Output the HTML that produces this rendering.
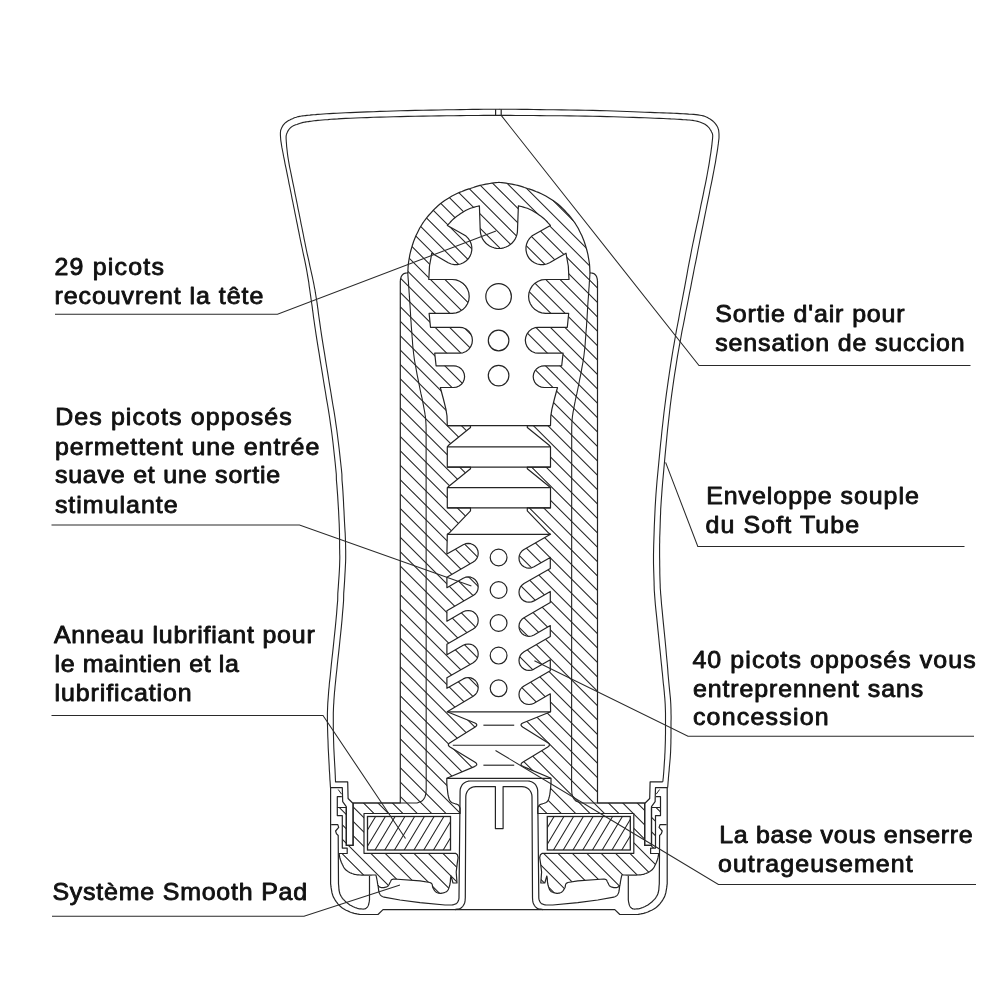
<!DOCTYPE html>
<html><head><meta charset="utf-8"><title>Diagram</title>
<style>html,body{margin:0;padding:0;background:#fff}svg{display:block}</style></head>
<body><svg width="1000" height="1000" viewBox="0 0 1000 1000">
<rect width="1000" height="1000" fill="#fff"/>
<path d="M499.3 109.2 L496.4 109.2 L492.8 109.3 L488.5 109.3 L483.6 109.3 L478.2 109.4 L472.5 109.4 L466.5 109.5 L460.4 109.6 L453.8 109.7 L446.6 109.8 L439.0 110.0 L431.1 110.1 L423.1 110.3 L415.2 110.4 L407.6 110.6 L400.4 110.8 L393.5 111.0 L386.7 111.2 L380.0 111.4 L373.5 111.7 L367.2 111.9 L361.3 112.1 L355.6 112.4 L350.4 112.6 L345.6 112.8 L341.1 113.0 L337.0 113.2 L333.2 113.4 L329.7 113.6 L326.4 113.8 L323.3 114.0 L320.4 114.2 L317.8 114.4 L315.5 114.6 L313.4 114.7 L311.6 114.9 L309.9 115.1 L308.4 115.2 L306.9 115.4 L305.4 115.6 L304.0 115.8 L302.8 115.9 L301.6 116.0 L300.6 116.2 L299.6 116.4 L298.6 116.6 L297.5 116.8 L296.4 117.2 L295.2 117.6 L293.8 118.1 L292.5 118.7 L291.1 119.3 L289.8 120.0 L288.6 120.6 L287.4 121.3 L286.4 122.0 L285.5 122.7 L284.7 123.4 L284.1 124.1 L283.4 124.9 L282.9 125.6 L282.4 126.4 L282.0 127.2 L281.6 128.0 L281.3 128.8 L281.0 129.5 L280.7 130.2 L280.6 130.9 L280.5 131.7 L280.4 132.7 L280.4 133.7 L280.4 135.0 L280.5 136.4 L280.6 137.8 L280.7 139.4 L280.9 141.1 L281.2 142.9 L281.5 145.0 L281.9 147.4 L282.4 150.0 L283.0 153.0 L283.6 156.4 L284.4 160.2 L285.1 164.1 L286.0 168.1 L286.8 172.1 L287.6 176.1 L288.4 180.0 L289.1 183.8 L289.9 187.5 L290.6 191.2 L291.4 195.0 L292.1 198.8 L292.9 202.5 L293.6 206.2 L294.4 210.0 L295.1 213.7 L295.9 217.5 L296.6 221.2 L297.4 224.9 L298.1 228.6 L298.9 232.4 L299.6 236.2 L300.4 240.0 L301.2 243.9 L302.1 248.0 L302.9 252.0 L303.8 256.1 L304.7 260.2 L305.5 264.2 L306.3 268.2 L307.0 272.0 L307.6 275.7 L308.2 279.2 L308.8 282.7 L309.2 286.1 L309.7 289.5 L310.2 293.0 L310.7 296.4 L311.2 300.0 L311.7 303.5 L312.2 306.9 L312.6 310.2 L313.1 313.6 L313.5 317.2 L314.1 321.0 L314.7 325.3 L315.4 330.0 L316.2 335.3 L317.1 341.1 L318.1 347.3 L319.2 353.8 L320.2 360.4 L321.3 367.0 L322.4 373.6 L323.4 380.0 L324.4 386.2 L325.5 392.5 L326.5 398.8 L327.6 405.0 L328.6 411.2 L329.6 417.5 L330.5 423.8 L331.4 430.0 L332.2 436.3 L333.0 442.7 L333.7 449.2 L334.4 455.6 L335.1 462.0 L335.7 468.2 L336.3 474.2 L336.4 480.0 L336.9 485.6 L337.3 491.1 L337.7 496.4 L338.0 501.6 L338.3 506.5 L338.6 511.3 L338.8 515.8 L339.0 520.0 L339.2 523.8 L339.3 527.3 L339.4 530.5 L339.5 533.4 L339.5 536.3 L339.6 539.1 L339.6 542.0 L339.6 545.0 L339.6 548.0 L339.7 550.7 L339.7 553.3 L339.8 555.9 L339.8 558.8 L339.7 562.0 L339.6 565.7 L339.4 570.0 L339.1 575.1 L338.7 580.7 L338.3 586.9 L337.8 593.4 L337.7 600.2 L337.1 606.9 L336.6 613.6 L336.0 620.0 L335.4 626.4 L334.7 633.1 L334.0 639.8 L333.3 646.6 L332.6 653.1 L331.9 659.3 L331.3 664.9 L330.8 670.0 L330.4 674.3 L330.0 678.1 L329.6 681.4 L329.3 684.3 L329.1 687.0 L328.8 689.6 L328.6 692.2 L328.4 695.0 L328.2 697.8 L328.0 700.4 L327.8 702.9 L327.7 705.3 L327.6 707.8 L327.5 710.4 L327.4 713.1 L327.4 716.0 L327.4 719.2 L327.4 722.5 L327.5 726.0 L327.6 729.6 L327.7 733.2 L327.8 736.8 L328.0 740.5 L328.1 744.0 L328.2 747.6 L328.4 751.3 L328.6 755.0 L328.8 758.8 L329.0 762.4 L329.2 765.9 L329.3 769.1 L329.5 772.0 L329.7 774.7 L329.8 777.2 L329.9 779.5 L330.1 781.6 L330.2 783.5 L330.3 785.2 L330.4 786.6 L330.5 787.7" fill="none" stroke="#242424" stroke-width="1.1" stroke-linejoin="round" stroke-linecap="butt" />
<path d="M499.3 115.4 L496.4 115.4 L492.8 115.4 L488.5 115.4 L483.6 115.4 L478.2 115.5 L472.5 115.5 L466.5 115.5 L460.4 115.6 L453.8 115.7 L446.6 115.8 L439.0 115.9 L431.1 116.0 L423.1 116.1 L415.2 116.3 L407.6 116.4 L400.4 116.6 L393.5 116.8 L386.7 117.0 L380.0 117.1 L373.4 117.3 L367.1 117.6 L361.1 117.8 L355.5 118.0 L350.4 118.2 L345.8 118.4 L341.5 118.6 L337.7 118.9 L334.1 119.1 L330.9 119.3 L327.9 119.6 L325.1 119.8 L322.4 120.0 L319.9 120.2 L317.8 120.4 L315.9 120.6 L314.1 120.8 L312.6 121.0 L311.1 121.2 L309.8 121.4 L308.4 121.6 L307.1 121.8 L306.0 121.9 L305.0 122.1 L304.1 122.3 L303.2 122.4 L302.3 122.6 L301.4 122.9 L300.4 123.2 L299.3 123.6 L298.1 123.9 L296.9 124.4 L295.7 124.8 L294.5 125.3 L293.3 125.8 L292.3 126.4 L291.4 127.0 L290.6 127.6 L289.9 128.3 L289.3 129.0 L288.7 129.8 L288.2 130.6 L287.7 131.4 L287.3 132.2 L287.0 133.0 L286.7 133.7 L286.5 134.4 L286.3 135.0 L286.2 135.6 L286.1 136.4 L286.1 137.3 L286.1 138.5 L286.2 140.0 L286.3 141.8 L286.5 143.9 L286.6 146.1 L286.9 148.6 L287.2 151.2 L287.5 154.0 L287.9 156.9 L288.4 160.0 L289.0 163.3 L289.6 166.8 L290.4 170.5 L291.2 174.4 L292.0 178.3 L292.8 182.3 L293.6 186.2 L294.4 190.0 L295.1 193.8 L295.9 197.5 L296.6 201.2 L297.4 205.0 L298.1 208.8 L298.9 212.5 L299.6 216.2 L300.4 220.0 L301.1 223.8 L301.9 227.5 L302.6 231.2 L303.4 235.0 L304.1 238.8 L304.9 242.5 L305.6 246.2 L306.4 250.0 L307.2 253.8 L308.1 257.7 L309.0 261.7 L309.8 265.6 L310.7 269.5 L311.5 273.2 L312.3 276.7 L313.0 280.0 L313.6 282.9 L314.1 285.5 L314.5 287.8 L315.0 290.0 L315.3 292.2 L315.7 294.5 L316.1 297.1 L316.6 300.0 L317.1 303.1 L317.5 306.3 L318.0 309.6 L318.4 313.1 L318.9 316.8 L319.5 320.9 L320.1 325.2 L320.8 330.0 L321.6 335.3 L322.5 341.1 L323.5 347.3 L324.6 353.8 L325.6 360.4 L326.7 367.0 L327.8 373.6 L328.8 380.0 L329.8 386.2 L330.9 392.5 L331.9 398.8 L332.9 405.0 L334.0 411.2 L335.0 417.5 L335.9 423.8 L336.8 430.0 L337.6 436.3 L338.4 442.7 L339.2 449.2 L339.9 455.6 L340.6 462.0 L341.3 468.2 L341.9 474.2 L342.0 480.0 L342.5 485.6 L342.9 491.1 L343.2 496.4 L343.5 501.6 L343.7 506.5 L344.0 511.3 L344.2 515.8 L344.4 520.0 L344.6 523.8 L344.8 527.3 L345.0 530.5 L345.2 533.4 L345.3 536.3 L345.4 539.1 L345.5 542.0 L345.6 545.0 L345.6 548.0 L345.7 550.7 L345.7 553.3 L345.7 555.9 L345.7 558.8 L345.6 562.0 L345.4 565.7 L345.2 570.0 L344.9 575.1 L344.6 580.7 L344.2 586.9 L343.7 593.4 L343.6 600.2 L343.1 606.9 L342.5 613.6 L342.0 620.0 L341.4 626.4 L340.7 633.1 L340.0 639.8 L339.3 646.6 L338.6 653.1 L337.9 659.3 L337.3 664.9 L336.8 670.0 L336.3 674.3 L335.9 678.1 L335.6 681.4 L335.3 684.3 L335.0 687.0 L334.8 689.6 L334.5 692.2 L334.3 695.0 L334.1 697.8 L333.9 700.4 L333.8 702.9 L333.6 705.3 L333.5 707.8 L333.4 710.4 L333.3 713.1 L333.3 716.0 L333.3 719.2 L333.3 722.5 L333.3 726.0 L333.3 729.6 L333.4 733.2 L333.5 736.8 L333.6 740.5 L333.7 744.0 L333.8 747.6 L334.0 751.4 L334.2 755.3 L334.4 759.1 L334.6 762.8 L334.8 766.3 L335.0 769.4 L335.1 772.0 L335.2 774.2 L335.3 776.0 L335.3 777.5 L335.4 778.7 L335.4 779.7 L335.5 780.5 L335.5 781.3 L335.5 781.9" fill="none" stroke="#242424" stroke-width="1.1" stroke-linejoin="round" stroke-linecap="butt" />
<path d="M498.9 109.2 L501.9 109.2 L505.8 109.3 L510.5 109.3 L515.7 109.3 L521.4 109.4 L527.4 109.4 L533.7 109.5 L540.0 109.6 L546.7 109.7 L553.9 109.8 L561.6 109.9 L569.4 110.0 L577.4 110.1 L585.3 110.3 L592.8 110.4 L600.0 110.6 L606.9 110.8 L613.7 111.0 L620.4 111.2 L626.9 111.5 L633.2 111.7 L639.1 112.0 L644.8 112.2 L650.0 112.4 L654.8 112.6 L659.1 112.7 L663.2 112.9 L666.9 113.0 L670.4 113.1 L673.7 113.3 L676.9 113.4 L680.0 113.6 L683.0 113.8 L685.9 113.9 L688.7 114.1 L691.2 114.2 L693.7 114.4 L695.9 114.6 L698.0 114.9 L700.0 115.2 L701.7 115.5 L703.3 115.9 L704.6 116.3 L705.8 116.8 L706.9 117.2 L707.9 117.8 L709.0 118.4 L710.0 119.0 L711.1 119.7 L712.1 120.5 L713.1 121.3 L714.0 122.2 L714.9 123.2 L715.7 124.1 L716.4 125.1 L717.0 126.0 L717.5 126.9 L717.9 127.8 L718.2 128.8 L718.5 129.7 L718.7 130.7 L718.8 131.7 L718.9 132.8 L719.0 134.0 L719.0 135.2 L719.0 136.4 L719.0 137.7 L718.9 139.0 L718.7 140.4 L718.5 142.1 L718.3 143.9 L718.0 146.0 L717.7 148.3 L717.3 150.8 L716.9 153.4 L716.4 156.2 L715.9 159.3 L715.4 162.6 L714.7 166.2 L714.0 170.0 L713.2 174.2 L712.3 178.9 L711.3 183.8 L710.2 189.0 L709.2 194.3 L708.1 199.6 L707.0 204.9 L706.0 210.0 L705.0 214.9 L704.0 219.8 L703.1 224.6 L702.1 229.4 L701.1 234.3 L700.1 239.3 L699.1 244.5 L698.0 250.0 L696.9 255.8 L695.7 261.8 L694.4 268.0 L693.2 274.4 L691.9 280.8 L690.7 287.3 L689.4 293.7 L688.2 300.0 L687.0 306.2 L685.7 312.5 L684.5 318.8 L683.3 325.0 L682.0 331.2 L680.9 337.5 L679.7 343.8 L678.6 350.0 L677.5 356.2 L676.5 362.5 L675.5 368.8 L674.5 375.0 L673.6 381.2 L672.7 387.5 L671.8 393.8 L671.0 400.0 L670.2 406.2 L669.5 412.5 L668.8 418.8 L668.1 425.0 L667.4 431.2 L666.8 437.5 L666.2 443.8 L665.6 450.0 L665.0 456.4 L664.4 463.0 L663.8 469.6 L663.2 476.2 L662.6 482.7 L662.1 488.9 L661.7 494.7 L661.3 500.0 L661.0 504.8 L660.7 509.1 L660.6 513.2 L660.4 516.9 L660.3 520.4 L660.2 523.7 L660.1 526.9 L660.0 530.0 L659.9 532.9 L659.8 535.5 L659.7 537.8 L659.7 540.0 L659.7 542.2 L659.6 544.5 L659.6 547.1 L659.6 550.0 L659.6 553.3 L659.6 557.0 L659.7 561.0 L659.7 565.0 L659.8 569.0 L659.8 573.0 L659.9 576.7 L660.0 580.0 L660.1 582.8 L660.2 585.0 L660.2 586.9 L660.3 588.8 L660.5 590.7 L660.6 593.1 L660.9 596.1 L661.2 600.0 L661.6 605.0 L662.2 610.9 L662.8 617.4 L663.5 624.4 L664.2 631.4 L664.9 638.2 L665.5 644.5 L666.0 650.0 L666.4 654.7 L666.8 659.0 L667.2 663.0 L667.5 666.6 L667.8 670.1 L668.0 673.4 L668.3 676.7 L668.6 680.0 L668.9 683.3 L669.2 686.4 L669.5 689.4 L669.8 692.4 L670.1 695.3 L670.4 698.1 L670.6 701.0 L670.8 704.0 L670.9 707.0 L671.0 710.0 L671.0 713.0 L671.1 716.0 L671.1 719.0 L671.0 722.0 L671.0 725.0 L671.0 728.0 L671.0 731.0 L671.0 734.0 L671.0 737.0 L670.9 740.0 L670.9 743.0 L670.8 746.0 L670.7 749.0 L670.6 752.0 L670.4 755.1 L670.2 758.3 L669.9 761.5 L669.6 764.8 L669.3 767.9 L669.1 770.9 L668.8 773.6 L668.6 776.0 L668.4 778.1 L668.3 780.1 L668.1 781.8 L668.0 783.4 L667.9 784.7 L667.8 785.9 L667.7 786.9 L667.6 787.7" fill="none" stroke="#242424" stroke-width="1.1" stroke-linejoin="round" stroke-linecap="butt" />
<path d="M498.9 115.4 L501.9 115.4 L505.8 115.4 L510.5 115.4 L515.7 115.5 L521.4 115.5 L527.4 115.5 L533.7 115.5 L540.0 115.6 L546.7 115.7 L553.9 115.7 L561.6 115.8 L569.4 115.9 L577.4 116.0 L585.3 116.1 L592.8 116.3 L600.0 116.4 L606.9 116.6 L613.7 116.7 L620.4 117.0 L626.9 117.2 L633.2 117.4 L639.1 117.6 L644.8 117.8 L650.0 118.0 L654.8 118.2 L659.2 118.4 L663.3 118.5 L667.1 118.7 L670.7 118.9 L674.0 119.0 L677.1 119.2 L680.0 119.4 L682.7 119.6 L685.1 119.7 L687.3 119.9 L689.2 120.0 L691.1 120.2 L692.8 120.4 L694.4 120.7 L696.0 121.0 L697.6 121.4 L699.0 121.8 L700.4 122.2 L701.6 122.7 L702.8 123.2 L703.9 123.7 L705.0 124.3 L706.0 125.0 L706.9 125.7 L707.8 126.5 L708.6 127.4 L709.4 128.2 L710.0 129.2 L710.6 130.1 L711.2 131.1 L711.6 132.0 L712.0 132.8 L712.3 133.4 L712.5 134.0 L712.6 134.6 L712.7 135.3 L712.7 136.4 L712.6 137.9 L712.4 140.0 L712.1 142.6 L711.8 145.7 L711.3 149.2 L710.8 153.0 L710.1 157.1 L709.5 161.3 L708.8 165.6 L708.0 170.0 L707.2 174.5 L706.3 179.3 L705.3 184.3 L704.2 189.4 L703.2 194.6 L702.1 199.8 L701.0 204.9 L700.0 210.0 L699.0 214.9 L698.0 219.8 L696.9 224.6 L695.9 229.4 L694.8 234.3 L693.8 239.3 L692.7 244.5 L691.6 250.0 L690.5 255.8 L689.3 261.8 L688.1 268.0 L687.0 274.4 L685.8 280.8 L684.6 287.3 L683.4 293.7 L682.2 300.0 L681.0 306.2 L679.8 312.5 L678.7 318.8 L677.5 325.0 L676.3 331.2 L675.2 337.5 L674.1 343.8 L673.0 350.0 L672.0 356.2 L671.0 362.5 L670.0 368.8 L669.1 375.0 L668.2 381.2 L667.3 387.5 L666.4 393.8 L665.6 400.0 L664.8 406.2 L664.0 412.5 L663.3 418.8 L662.6 425.0 L661.9 431.2 L661.3 437.5 L660.6 443.8 L660.0 450.0 L659.4 456.2 L658.8 462.5 L658.2 468.8 L657.6 475.0 L657.0 481.2 L656.5 487.5 L656.0 493.8 L655.6 500.0 L655.2 506.4 L654.9 513.0 L654.6 519.6 L654.3 526.2 L654.1 532.7 L653.9 538.9 L653.7 544.7 L653.6 550.0 L653.5 554.8 L653.5 559.1 L653.5 563.2 L653.6 566.9 L653.7 570.4 L653.8 573.7 L653.9 576.9 L654.0 580.0 L654.1 582.8 L654.1 585.0 L654.2 586.9 L654.2 588.8 L654.3 590.7 L654.5 593.1 L654.7 596.1 L655.0 600.0 L655.4 605.0 L656.0 610.9 L656.7 617.4 L657.4 624.4 L658.1 631.4 L658.8 638.2 L659.4 644.5 L660.0 650.0 L660.5 654.7 L660.9 659.0 L661.3 663.0 L661.7 666.6 L662.0 670.1 L662.4 673.4 L662.7 676.7 L663.0 680.0 L663.3 683.3 L663.7 686.4 L664.0 689.4 L664.3 692.4 L664.5 695.3 L664.8 698.1 L665.0 701.0 L665.2 704.0 L665.3 707.0 L665.4 710.0 L665.5 713.0 L665.5 716.0 L665.5 719.0 L665.5 722.0 L665.5 725.0 L665.5 728.0 L665.5 731.0 L665.5 734.0 L665.4 737.0 L665.4 740.0 L665.3 743.0 L665.2 746.0 L665.1 749.0 L665.0 752.0 L664.8 755.1 L664.7 758.4 L664.4 761.8 L664.2 765.1 L664.0 768.3 L663.8 771.3 L663.6 773.9 L663.4 776.0 L663.3 777.6 L663.1 778.9 L663.0 779.8 L663.0 780.5 L662.9 780.9 L662.8 781.3 L662.7 781.6 L662.7 781.9" fill="none" stroke="#242424" stroke-width="1.1" stroke-linejoin="round" stroke-linecap="butt" />
<path d="M330.1 787.7 L342.3 787.7 L342.7 801.7 L346.3 806.6 L346.3 845.4 L353.1 845.4 L353.1 803.0" fill="none" stroke="#242424" stroke-width="1.2" stroke-linejoin="round" stroke-linecap="butt" />
<path d="M667.7 787.7 L655.5 787.7 L655.1 801.7 L651.5 806.6 L651.5 845.4 L644.7 845.4 L644.7 803.0" fill="none" stroke="#242424" stroke-width="1.2" stroke-linejoin="round" stroke-linecap="butt" />
<path d="M335.1 781.9 L347.7 781.9 L348.1 798.5 L352.6 803.0 L400.3 803.0" fill="none" stroke="#242424" stroke-width="1.2" stroke-linejoin="round" stroke-linecap="butt" />
<path d="M662.7 781.9 L650.1 781.9 L649.7 798.5 L645.2 803.0 L597.5 803.0" fill="none" stroke="#242424" stroke-width="1.2" stroke-linejoin="round" stroke-linecap="butt" />
<path d="M495.6 109.2 L495.6 115.4" fill="none" stroke="#242424" stroke-width="1.2" stroke-linejoin="round" stroke-linecap="butt" />
<path d="M501.2 109.2 L501.2 115.4" fill="none" stroke="#242424" stroke-width="1.2" stroke-linejoin="round" stroke-linecap="butt" />
<clipPath id="cb"><path d="M498.9 182.3 L497.7 182.5 L495.9 182.7 L493.9 182.9 L491.8 183.2 L489.8 183.5 L487.9 183.8 L485.9 184.2 L483.8 184.6 L481.9 185.0 L480.0 185.4 L478.3 185.9 L476.6 186.4 L475.0 186.9 L473.4 187.5 L471.8 188.0 L470.3 188.5 L468.9 188.9 L467.4 189.4 L465.8 189.9 L464.0 190.6 L461.9 191.5 L459.5 192.4 L457.0 193.5 L454.5 194.7 L452.0 196.0 L449.6 197.4 L447.2 198.9 L444.7 200.5 L442.3 202.2 L440.0 204.0 L437.7 206.0 L435.4 208.2 L433.1 210.5 L431.0 212.8 L429.0 215.0 L427.2 217.2 L425.5 219.4 L423.9 221.5 L422.4 223.7 L421.0 226.0 L419.6 228.3 L418.4 230.7 L417.2 233.2 L416.0 235.6 L415.0 238.0 L414.0 240.4 L413.2 242.8 L412.4 245.2 L411.7 247.6 L411.0 250.0 L410.4 252.4 L409.8 254.9 L409.4 257.3 L409.0 259.7 L408.6 262.0 L408.3 264.4 L408.1 266.9 L408.0 269.3 L407.9 271.4 L407.8 272.8 L407.3 272.9 L406.5 273.0 L405.6 273.1 L404.8 273.3 L404.0 273.6 L403.4 274.0 L402.8 274.5 L402.2 275.1 L401.7 275.8 L401.3 276.5 L401.0 277.4 L400.7 278.4 L400.5 279.4 L400.4 280.4 L400.3 281.0 L400.3 803.0 L353.1 803.0 L353.1 845.4 L346.3 845.4 L346.3 807.5 L337.3 807.5 L337.3 815.6 L342.3 815.6 L342.3 848.1 L347.2 848.1 L347.2 853.5 L339.1 853.5 L339.2 854.0 L339.3 854.6 L339.4 855.4 L339.5 856.2 L339.7 857.1 L339.9 858.0 L340.2 859.0 L340.5 860.0 L340.9 861.0 L341.3 862.2 L341.9 863.4 L342.4 864.6 L343.0 865.8 L343.6 867.0 L344.3 868.1 L345.0 869.0 L345.7 869.8 L346.6 870.5 L347.4 871.1 L348.3 871.7 L349.2 872.2 L350.1 872.7 L351.1 873.1 L352.0 873.5 L352.9 873.8 L353.7 874.1 L354.6 874.3 L355.4 874.5 L356.4 874.7 L357.4 874.8 L358.6 874.9 L360.0 875.0 L361.7 875.1 L363.8 875.1 L366.1 875.1 L368.5 875.1 L370.8 875.1 L372.9 875.0 L374.7 875.0 L376.0 875.0 L376.1 875.7 L376.3 876.6 L376.6 877.8 L376.8 878.9 L377.0 880.0 L377.2 881.0 L377.4 882.1 L377.5 883.2 L377.7 884.2 L378.0 885.0 L378.3 885.6 L378.6 886.2 L379.0 886.6 L379.5 886.9 L380.0 887.2 L380.7 887.4 L381.5 887.6 L382.3 887.7 L383.2 887.7 L384.0 887.6 L384.8 887.4 L385.7 887.2 L386.5 886.9 L387.3 886.5 L388.0 886.0 L388.6 885.3 L389.1 884.5 L389.5 883.6 L389.9 882.7 L390.3 882.0 L390.6 881.4 L390.8 880.9 L391.0 880.5 L391.2 880.1 L391.5 879.8 L392.0 879.5 L392.5 879.3 L393.1 879.2 L393.6 879.1 L394.0 879.0 L420.0 880.8 L430.0 882.5 L430.3 882.7 L430.7 882.9 L431.2 883.1 L431.6 883.5 L432.0 884.0 L432.2 884.6 L432.4 885.4 L432.5 886.3 L432.7 887.2 L433.0 888.0 L433.5 888.8 L434.0 889.7 L434.6 890.6 L435.3 891.4 L436.0 892.0 L436.7 892.5 L437.5 892.8 L438.3 893.1 L439.1 893.2 L440.0 893.3 L441.0 893.3 L442.0 893.1 L443.1 892.9 L444.1 892.6 L445.0 892.3 L445.7 892.0 L446.4 891.7 L447.0 891.2 L447.5 890.7 L448.0 890.0 L448.5 889.0 L448.9 887.9 L449.3 886.6 L449.7 885.3 L450.0 884.0 L450.2 882.7 L450.4 881.4 L450.4 880.1 L450.5 878.9 L450.6 878.0 L450.7 877.3 L450.8 876.8 L450.9 876.5 L450.9 876.2 L451.0 876.0 L453.0 883.0 L457.0 883.0 L456.2 872.0 L457.2 863.6 L458.1 857.5 L457.4 854.8 L455.5 853.3 L364.0 853.3 L364.0 813.5 L460.1 813.5 L460.1 808.3 L459.9 807.8 L459.6 807.1 L459.3 806.3 L458.8 805.5 L458.0 804.8 L456.8 804.2 L455.3 803.8 L453.7 803.3 L452.2 802.7 L451.0 802.0 L450.2 801.1 L449.6 800.1 L449.1 799.0 L448.8 797.7 L448.4 796.4 L448.1 794.9 L447.8 793.1 L447.6 791.3 L447.4 789.5 L447.2 788.0 L447.1 786.7 L447.0 785.5 L446.9 784.4 L446.8 783.4 L446.8 782.4 L446.8 781.4 L446.8 780.5 L446.8 779.6 L446.8 778.8 L446.8 778.3 L446.8 778.3 L474.4 766.6 L475.9 765.7 L476.7 764.9 L476.7 764.0 L476.1 763.0 L474.7 762.0 L450.0 746.9 L448.9 746.1 L448.4 745.2 L448.4 744.4 L448.9 743.5 L450.0 742.7 L474.8 727.2 L476.1 726.2 L476.7 725.3 L476.7 724.3 L475.9 723.5 L474.4 722.7 L447.2 711.7 L473.2 696.2 L475.3 694.6 L476.9 692.5 L477.9 690.1 L478.2 687.5 L477.9 685.0 L476.9 682.5 L475.3 680.5 L473.2 678.9 L470.8 677.9 L468.2 677.5 L465.6 677.9 L463.2 678.9 L446.9 688.3 L446.9 677.8 L473.2 662.7 L475.3 661.1 L476.9 659.0 L477.9 656.6 L478.2 654.0 L477.9 651.4 L476.9 649.0 L475.3 646.9 L473.2 645.3 L470.8 644.3 L468.2 644.0 L465.6 644.3 L463.2 645.3 L446.9 654.8 L446.9 644.3 L473.2 629.1 L475.3 627.5 L476.9 625.5 L477.9 623.0 L478.2 620.5 L477.9 617.9 L476.9 615.5 L475.3 613.4 L473.2 611.8 L470.8 610.8 L468.2 610.5 L465.6 610.8 L463.2 611.8 L446.9 621.2 L446.9 610.7 L473.2 595.6 L475.3 594.0 L476.9 591.9 L477.9 589.5 L478.2 586.9 L477.9 584.3 L476.9 581.9 L475.3 579.8 L473.2 578.2 L470.8 577.2 L468.2 576.9 L465.6 577.2 L463.2 578.2 L446.9 587.7 L446.9 577.2 L473.2 562.0 L475.3 560.4 L476.9 558.4 L477.9 555.9 L478.2 553.4 L477.9 550.8 L476.9 548.4 L475.3 546.3 L473.2 544.7 L470.8 543.7 L468.2 543.4 L465.6 543.7 L463.2 544.7 L446.9 554.1 L447.3 534.3 L448.9 533.3 L470.5 510.8 L470.5 507.9 L447.3 507.9 L447.3 487.6 L448.9 486.3 L470.5 468.8 L470.5 467.1 L447.3 467.1 L447.3 446.9 L448.9 445.0 L470.5 427.5 L470.5 425.6 L447.3 425.6 L447.0 416.0 L445.9 409.2 L443.4 399.0 L440.3 387.5 L453.7 387.5 L453.7 387.5 L456.5 387.1 L459.1 386.0 L461.4 384.3 L463.1 382.1 L464.2 379.5 L464.6 376.6 L464.2 373.8 L463.1 371.2 L461.4 369.0 L459.1 367.3 L456.5 366.2 L453.7 365.8 L436.1 365.8 L434.7 353.2 L459.5 353.2 L459.5 353.2 L462.9 352.8 L466.0 351.5 L468.7 349.4 L470.7 346.7 L472.0 343.6 L472.4 340.2 L472.0 336.9 L470.7 333.8 L468.7 331.1 L466.0 329.0 L462.9 327.7 L459.5 327.3 L430.5 327.3 L429.1 313.3 L452.3 313.3 L452.3 313.3 L456.1 312.9 L459.6 311.6 L462.8 309.6 L465.5 306.9 L467.5 303.7 L468.8 300.2 L469.2 296.4 L468.8 292.6 L467.5 289.1 L465.5 285.9 L462.8 283.2 L459.6 281.2 L456.1 279.9 L452.3 279.5 L428.8 279.5 L429.5 266.0 L431.8 253.2 L448.2 262.8 L451.2 264.0 L454.3 264.6 L457.4 264.6 L460.5 264.0 L463.4 262.8 L466.0 261.0 L468.3 258.8 L470.0 256.2 L471.2 253.2 L471.8 250.1 L471.8 247.0 L471.2 243.9 L470.0 241.0 L468.2 238.4 L466.0 236.1 L463.4 234.4 L447.4 225.4 L448.3 224.4 L449.5 223.1 L450.9 221.5 L452.5 219.9 L454.0 218.5 L455.6 217.2 L457.2 215.9 L459.0 214.7 L460.7 213.5 L462.4 212.4 L464.0 211.4 L465.6 210.5 L467.2 209.7 L468.8 209.0 L470.5 208.3 L472.4 207.7 L474.4 207.1 L476.4 206.5 L478.2 206.1 L479.4 205.8 L480.2 229.8 L480.2 229.8 L480.4 232.2 L480.9 234.6 L481.7 236.9 L482.7 239.1 L484.1 241.2 L485.7 243.0 L487.5 244.6 L489.6 246.0 L491.8 247.0 L494.1 247.8 L496.5 248.3 L498.9 248.5 L501.3 248.3 L503.7 247.8 L506.0 247.0 L508.2 246.0 L510.3 244.6 L512.1 243.0 L513.7 241.2 L515.1 239.1 L516.1 236.9 L516.9 234.6 L517.4 232.2 L517.5 229.8 L517.5 229.8 L518.4 205.8 L519.6 206.1 L521.4 206.5 L523.4 207.1 L525.4 207.7 L527.3 208.3 L529.0 209.0 L530.6 209.7 L532.2 210.5 L533.8 211.4 L535.4 212.4 L537.1 213.5 L538.8 214.7 L540.6 215.9 L542.2 217.2 L543.8 218.5 L545.3 219.9 L546.9 221.5 L548.3 223.1 L549.5 224.4 L550.4 225.4 L534.4 234.4 L531.8 236.1 L529.6 238.4 L527.8 241.0 L526.6 243.9 L526.0 247.0 L526.0 250.1 L526.6 253.2 L527.8 256.2 L529.5 258.8 L531.8 261.0 L534.4 262.8 L537.3 264.0 L540.4 264.6 L543.5 264.6 L546.6 264.0 L549.6 262.8 L566.0 253.2 L568.3 266.0 L569.0 279.5 L545.5 279.5 L541.7 279.9 L538.2 281.2 L535.0 283.2 L532.3 285.9 L530.3 289.1 L529.0 292.6 L528.6 296.4 L529.0 300.2 L530.3 303.7 L532.3 306.9 L535.0 309.6 L538.2 311.6 L541.7 312.9 L545.5 313.3 L545.5 313.3 L568.7 313.3 L567.3 327.3 L538.3 327.3 L534.9 327.7 L531.8 329.0 L529.1 331.1 L527.1 333.8 L525.8 336.9 L525.3 340.2 L525.8 343.6 L527.1 346.7 L529.1 349.4 L531.8 351.5 L534.9 352.8 L538.3 353.2 L538.3 353.2 L563.1 353.2 L561.7 365.8 L544.1 365.8 L541.3 366.2 L538.7 367.3 L536.4 369.0 L534.7 371.2 L533.6 373.8 L533.2 376.6 L533.6 379.5 L534.7 382.1 L536.4 384.3 L538.7 386.0 L541.3 387.1 L544.1 387.5 L544.1 387.5 L557.5 387.5 L554.4 399.0 L551.9 409.2 L550.8 416.0 L550.5 425.6 L527.3 425.6 L527.3 427.5 L548.9 445.0 L550.5 446.9 L550.5 467.1 L527.3 467.1 L527.3 468.8 L548.9 486.3 L550.5 487.6 L550.5 507.9 L527.3 507.9 L527.3 510.8 L548.9 533.3 L550.5 534.3 L524.0 549.5 L521.9 551.1 L520.3 553.1 L519.3 555.6 L519.0 558.1 L519.3 560.7 L520.3 563.1 L521.9 565.2 L524.0 566.8 L526.4 567.8 L529.0 568.1 L531.6 567.8 L534.0 566.8 L550.3 557.4 L550.3 568.4 L524.0 583.6 L521.9 585.2 L520.3 587.2 L519.3 589.7 L519.0 592.2 L519.3 594.8 L520.3 597.2 L521.9 599.3 L524.0 600.9 L526.4 601.9 L529.0 602.2 L531.6 601.9 L534.0 600.9 L550.3 591.5 L550.3 602.5 L524.0 617.7 L521.9 619.3 L520.3 621.4 L519.3 623.8 L519.0 626.4 L519.3 628.9 L520.3 631.4 L521.9 633.4 L524.0 635.0 L526.4 636.0 L529.0 636.4 L531.6 636.0 L534.0 635.0 L550.3 625.6 L550.3 636.6 L524.0 651.8 L521.9 653.4 L520.3 655.4 L519.3 657.9 L519.0 660.4 L519.3 663.0 L520.3 665.4 L521.9 667.5 L524.0 669.1 L526.4 670.1 L529.0 670.4 L531.6 670.1 L534.0 669.1 L550.3 659.7 L550.3 670.7 L524.0 685.9 L521.9 687.5 L520.3 689.5 L519.3 692.0 L519.0 694.5 L519.3 697.1 L520.3 699.5 L521.9 701.6 L524.0 703.2 L526.4 704.2 L529.0 704.5 L531.6 704.2 L534.0 703.2 L550.3 693.8 L550.6 711.7 L523.4 722.7 L521.9 723.5 L521.1 724.3 L521.1 725.3 L521.7 726.2 L523.0 727.2 L547.8 742.7 L548.9 743.5 L549.4 744.4 L549.4 745.2 L548.9 746.1 L547.8 746.9 L523.1 762.0 L521.7 763.0 L521.1 764.0 L521.1 764.9 L521.9 765.7 L523.4 766.6 L551.0 778.3 L551.0 778.3 L551.0 778.8 L551.0 779.6 L551.0 780.5 L551.0 781.4 L551.0 782.4 L551.0 783.4 L550.9 784.4 L550.8 785.5 L550.7 786.7 L550.6 788.0 L550.4 789.5 L550.2 791.3 L550.0 793.1 L549.7 794.9 L549.4 796.4 L549.0 797.7 L548.7 799.0 L548.2 800.1 L547.6 801.1 L546.8 802.0 L545.6 802.7 L544.1 803.3 L542.5 803.8 L541.0 804.2 L539.8 804.8 L539.0 805.5 L538.5 806.3 L538.2 807.1 L537.9 807.8 L537.7 808.3 L537.7 813.5 L633.8 813.5 L633.8 853.3 L542.3 853.3 L540.4 854.8 L539.7 857.5 L540.6 863.6 L541.6 872.0 L540.8 883.0 L544.8 883.0 L546.8 876.0 L546.9 876.2 L546.9 876.5 L547.0 876.8 L547.1 877.3 L547.2 878.0 L547.3 878.9 L547.4 880.1 L547.4 881.4 L547.6 882.7 L547.8 884.0 L548.1 885.3 L548.5 886.6 L548.9 887.9 L549.3 889.0 L549.8 890.0 L550.3 890.7 L550.8 891.2 L551.4 891.7 L552.1 892.0 L552.8 892.3 L553.7 892.6 L554.7 892.9 L555.8 893.1 L556.8 893.3 L557.8 893.3 L558.7 893.2 L559.5 893.1 L560.3 892.8 L561.1 892.5 L561.8 892.0 L562.5 891.4 L563.2 890.6 L563.8 889.7 L564.3 888.8 L564.8 888.0 L565.1 887.2 L565.3 886.3 L565.4 885.4 L565.6 884.6 L565.8 884.0 L566.2 883.5 L566.6 883.1 L567.1 882.9 L567.5 882.7 L567.8 882.5 L577.8 880.8 L603.8 879.0 L604.2 879.1 L604.7 879.2 L605.3 879.3 L605.8 879.5 L606.3 879.8 L606.6 880.1 L606.8 880.5 L607.0 880.9 L607.2 881.4 L607.5 882.0 L607.9 882.7 L608.3 883.6 L608.7 884.5 L609.2 885.3 L609.8 886.0 L610.5 886.5 L611.3 886.9 L612.1 887.2 L613.0 887.4 L613.8 887.6 L614.6 887.7 L615.5 887.7 L616.3 887.6 L617.1 887.4 L617.8 887.2 L618.3 886.9 L618.8 886.6 L619.2 886.2 L619.5 885.6 L619.8 885.0 L620.1 884.2 L620.3 883.2 L620.4 882.1 L620.6 881.0 L620.8 880.0 L621.0 878.9 L621.2 877.8 L621.5 876.6 L621.7 875.7 L621.8 875.0 L623.1 875.0 L624.9 875.0 L627.0 875.1 L629.3 875.1 L631.7 875.1 L634.0 875.1 L636.1 875.1 L637.8 875.0 L639.2 874.9 L640.4 874.8 L641.4 874.7 L642.4 874.5 L643.2 874.3 L644.1 874.1 L644.9 873.8 L645.8 873.5 L646.7 873.1 L647.7 872.7 L648.6 872.2 L649.5 871.7 L650.4 871.1 L651.2 870.5 L652.1 869.8 L652.8 869.0 L653.5 868.1 L654.2 867.0 L654.8 865.8 L655.4 864.6 L655.9 863.4 L656.5 862.2 L656.9 861.0 L657.3 860.0 L657.6 859.0 L657.9 858.0 L658.1 857.1 L658.3 856.2 L658.4 855.4 L658.5 854.6 L658.6 854.0 L658.7 853.5 L650.6 853.5 L650.6 848.1 L655.5 848.1 L655.5 815.6 L660.5 815.6 L660.5 807.5 L651.5 807.5 L651.5 845.4 L644.7 845.4 L644.7 803.0 L597.5 803.0 L597.5 281.0 L597.4 280.4 L597.3 279.4 L597.1 278.4 L596.8 277.4 L596.5 276.5 L596.1 275.8 L595.6 275.1 L595.0 274.5 L594.4 274.0 L593.8 273.6 L593.0 273.3 L592.2 273.1 L591.3 273.0 L590.5 272.9 L590.0 272.8 L589.9 271.4 L589.8 269.3 L589.7 266.9 L589.5 264.4 L589.2 262.0 L588.8 259.7 L588.4 257.3 L588.0 254.9 L587.4 252.4 L586.8 250.0 L586.1 247.6 L585.4 245.2 L584.6 242.8 L583.8 240.4 L582.8 238.0 L581.8 235.6 L580.6 233.2 L579.4 230.7 L578.2 228.3 L576.8 226.0 L575.4 223.7 L573.9 221.5 L572.3 219.4 L570.6 217.2 L568.8 215.0 L566.8 212.8 L564.7 210.5 L562.4 208.2 L560.1 206.0 L557.8 204.0 L555.5 202.2 L553.1 200.5 L550.6 198.9 L548.2 197.4 L545.8 196.0 L543.3 194.7 L540.8 193.5 L538.3 192.4 L535.9 191.5 L533.8 190.6 L532.0 189.9 L530.4 189.4 L528.9 188.9 L527.5 188.5 L526.0 188.0 L524.4 187.5 L522.8 186.9 L521.2 186.4 L519.5 185.9 L517.8 185.4 L515.9 185.0 L514.0 184.6 L511.9 184.2 L509.9 183.8 L508.0 183.5 L506.0 183.2 L503.9 182.9 L501.9 182.7 L500.1 182.5 Z"/></clipPath>
<path d="M300 -139.0 L700 261.0 M300 -124.6 L700 275.4 M300 -110.2 L700 289.8 M300 -95.8 L700 304.2 M300 -81.4 L700 318.6 M300 -67.0 L700 333.0 M300 -52.6 L700 347.4 M300 -38.2 L700 361.8 M300 -23.8 L700 376.2 M300 -9.4 L700 390.6 M300 5.0 L700 405.0 M300 19.4 L700 419.4 M300 33.8 L700 433.8 M300 48.2 L700 448.2 M300 62.6 L700 462.6 M300 77.0 L700 477.0 M300 91.4 L700 491.4 M300 105.8 L700 505.8 M300 120.2 L700 520.2 M300 134.6 L700 534.6 M300 149.0 L700 549.0 M300 163.4 L700 563.4 M300 177.8 L700 577.8 M300 192.2 L700 592.2 M300 206.6 L700 606.6 M300 221.0 L700 621.0 M300 235.4 L700 635.4 M300 249.8 L700 649.8 M300 264.2 L700 664.2 M300 278.6 L700 678.6 M300 293.0 L700 693.0 M300 307.4 L700 707.4 M300 321.8 L700 721.8 M300 336.2 L700 736.2 M300 350.6 L700 750.6 M300 365.0 L700 765.0 M300 379.4 L700 779.4 M300 393.8 L700 793.8 M300 408.2 L700 808.2 M300 422.6 L700 822.6 M300 437.0 L700 837.0 M300 451.4 L700 851.4 M300 465.8 L700 865.8 M300 480.2 L700 880.2 M300 494.6 L700 894.6 M300 509.0 L700 909.0 M300 523.4 L700 923.4 M300 537.8 L700 937.8 M300 552.2 L700 952.2 M300 566.6 L700 966.6 M300 581.0 L700 981.0 M300 595.4 L700 995.4 M300 609.8 L700 1009.8 M300 624.2 L700 1024.2 M300 638.6 L700 1038.6 M300 653.0 L700 1053.0 M300 667.4 L700 1067.4 M300 681.8 L700 1081.8 M300 696.2 L700 1096.2 M300 710.6 L700 1110.6 M300 725.0 L700 1125.0 M300 739.4 L700 1139.4 M300 753.8 L700 1153.8 M300 768.2 L700 1168.2 M300 782.6 L700 1182.6 M300 797.0 L700 1197.0 M300 811.4 L700 1211.4 M300 825.8 L700 1225.8 M300 840.2 L700 1240.2 M300 854.6 L700 1254.6 M300 869.0 L700 1269.0 M300 883.4 L700 1283.4 M300 897.8 L700 1297.8 M300 912.2 L700 1312.2 M300 926.6 L700 1326.6 M300 941.0 L700 1341.0 M300 955.4 L700 1355.4 M300 969.8 L700 1369.8 M300 984.2 L700 1384.2 M300 998.6 L700 1398.6" stroke="#242424" stroke-width="1.05" fill="none" clip-path="url(#cb)"/>
<path d="M498.9 182.3 L497.7 182.5 L495.9 182.7 L493.9 182.9 L491.8 183.2 L489.8 183.5 L487.9 183.8 L485.9 184.2 L483.8 184.6 L481.9 185.0 L480.0 185.4 L478.3 185.9 L476.6 186.4 L475.0 186.9 L473.4 187.5 L471.8 188.0 L470.3 188.5 L468.9 188.9 L467.4 189.4 L465.8 189.9 L464.0 190.6 L461.9 191.5 L459.5 192.4 L457.0 193.5 L454.5 194.7 L452.0 196.0 L449.6 197.4 L447.2 198.9 L444.7 200.5 L442.3 202.2 L440.0 204.0 L437.7 206.0 L435.4 208.2 L433.1 210.5 L431.0 212.8 L429.0 215.0 L427.2 217.2 L425.5 219.4 L423.9 221.5 L422.4 223.7 L421.0 226.0 L419.6 228.3 L418.4 230.7 L417.2 233.2 L416.0 235.6 L415.0 238.0 L414.0 240.4 L413.2 242.8 L412.4 245.2 L411.7 247.6 L411.0 250.0 L410.4 252.4 L409.8 254.9 L409.4 257.3 L409.0 259.7 L408.6 262.0 L408.3 264.4 L408.1 266.9 L408.0 269.3 L407.9 271.4 L407.8 272.8 L407.3 272.9 L406.5 273.0 L405.6 273.1 L404.8 273.3 L404.0 273.6 L403.4 274.0 L402.8 274.5 L402.2 275.1 L401.7 275.8 L401.3 276.5 L401.0 277.4 L400.7 278.4 L400.5 279.4 L400.4 280.4 L400.3 281.0 L400.3 803.0 L353.1 803.0 L353.1 845.4 L346.3 845.4 L346.3 807.5 L337.3 807.5 L337.3 815.6 L342.3 815.6 L342.3 848.1 L347.2 848.1 L347.2 853.5 L339.1 853.5 L339.2 854.0 L339.3 854.6 L339.4 855.4 L339.5 856.2 L339.7 857.1 L339.9 858.0 L340.2 859.0 L340.5 860.0 L340.9 861.0 L341.3 862.2 L341.9 863.4 L342.4 864.6 L343.0 865.8 L343.6 867.0 L344.3 868.1 L345.0 869.0 L345.7 869.8 L346.6 870.5 L347.4 871.1 L348.3 871.7 L349.2 872.2 L350.1 872.7 L351.1 873.1 L352.0 873.5 L352.9 873.8 L353.7 874.1 L354.6 874.3 L355.4 874.5 L356.4 874.7 L357.4 874.8 L358.6 874.9 L360.0 875.0 L361.7 875.1 L363.8 875.1 L366.1 875.1 L368.5 875.1 L370.8 875.1 L372.9 875.0 L374.7 875.0 L376.0 875.0 L376.1 875.7 L376.3 876.6 L376.6 877.8 L376.8 878.9 L377.0 880.0 L377.2 881.0 L377.4 882.1 L377.5 883.2 L377.7 884.2 L378.0 885.0 L378.3 885.6 L378.6 886.2 L379.0 886.6 L379.5 886.9 L380.0 887.2 L380.7 887.4 L381.5 887.6 L382.3 887.7 L383.2 887.7 L384.0 887.6 L384.8 887.4 L385.7 887.2 L386.5 886.9 L387.3 886.5 L388.0 886.0 L388.6 885.3 L389.1 884.5 L389.5 883.6 L389.9 882.7 L390.3 882.0 L390.6 881.4 L390.8 880.9 L391.0 880.5 L391.2 880.1 L391.5 879.8 L392.0 879.5 L392.5 879.3 L393.1 879.2 L393.6 879.1 L394.0 879.0 L420.0 880.8 L430.0 882.5 L430.3 882.7 L430.7 882.9 L431.2 883.1 L431.6 883.5 L432.0 884.0 L432.2 884.6 L432.4 885.4 L432.5 886.3 L432.7 887.2 L433.0 888.0 L433.5 888.8 L434.0 889.7 L434.6 890.6 L435.3 891.4 L436.0 892.0 L436.7 892.5 L437.5 892.8 L438.3 893.1 L439.1 893.2 L440.0 893.3 L441.0 893.3 L442.0 893.1 L443.1 892.9 L444.1 892.6 L445.0 892.3 L445.7 892.0 L446.4 891.7 L447.0 891.2 L447.5 890.7 L448.0 890.0 L448.5 889.0 L448.9 887.9 L449.3 886.6 L449.7 885.3 L450.0 884.0 L450.2 882.7 L450.4 881.4 L450.4 880.1 L450.5 878.9 L450.6 878.0 L450.7 877.3 L450.8 876.8 L450.9 876.5 L450.9 876.2 L451.0 876.0 L453.0 883.0 L457.0 883.0 L456.2 872.0 L457.2 863.6 L458.1 857.5 L457.4 854.8 L455.5 853.3 L364.0 853.3 L364.0 813.5 L460.1 813.5 L460.1 808.3 L459.9 807.8 L459.6 807.1 L459.3 806.3 L458.8 805.5 L458.0 804.8 L456.8 804.2 L455.3 803.8 L453.7 803.3 L452.2 802.7 L451.0 802.0 L450.2 801.1 L449.6 800.1 L449.1 799.0 L448.8 797.7 L448.4 796.4 L448.1 794.9 L447.8 793.1 L447.6 791.3 L447.4 789.5 L447.2 788.0 L447.1 786.7 L447.0 785.5 L446.9 784.4 L446.8 783.4 L446.8 782.4 L446.8 781.4 L446.8 780.5 L446.8 779.6 L446.8 778.8 L446.8 778.3 L446.8 778.3 L474.4 766.6 L475.9 765.7 L476.7 764.9 L476.7 764.0 L476.1 763.0 L474.7 762.0 L450.0 746.9 L448.9 746.1 L448.4 745.2 L448.4 744.4 L448.9 743.5 L450.0 742.7 L474.8 727.2 L476.1 726.2 L476.7 725.3 L476.7 724.3 L475.9 723.5 L474.4 722.7 L447.2 711.7 L473.2 696.2 L475.3 694.6 L476.9 692.5 L477.9 690.1 L478.2 687.5 L477.9 685.0 L476.9 682.5 L475.3 680.5 L473.2 678.9 L470.8 677.9 L468.2 677.5 L465.6 677.9 L463.2 678.9 L446.9 688.3 L446.9 677.8 L473.2 662.7 L475.3 661.1 L476.9 659.0 L477.9 656.6 L478.2 654.0 L477.9 651.4 L476.9 649.0 L475.3 646.9 L473.2 645.3 L470.8 644.3 L468.2 644.0 L465.6 644.3 L463.2 645.3 L446.9 654.8 L446.9 644.3 L473.2 629.1 L475.3 627.5 L476.9 625.5 L477.9 623.0 L478.2 620.5 L477.9 617.9 L476.9 615.5 L475.3 613.4 L473.2 611.8 L470.8 610.8 L468.2 610.5 L465.6 610.8 L463.2 611.8 L446.9 621.2 L446.9 610.7 L473.2 595.6 L475.3 594.0 L476.9 591.9 L477.9 589.5 L478.2 586.9 L477.9 584.3 L476.9 581.9 L475.3 579.8 L473.2 578.2 L470.8 577.2 L468.2 576.9 L465.6 577.2 L463.2 578.2 L446.9 587.7 L446.9 577.2 L473.2 562.0 L475.3 560.4 L476.9 558.4 L477.9 555.9 L478.2 553.4 L477.9 550.8 L476.9 548.4 L475.3 546.3 L473.2 544.7 L470.8 543.7 L468.2 543.4 L465.6 543.7 L463.2 544.7 L446.9 554.1 L447.3 534.3 L448.9 533.3 L470.5 510.8 L470.5 507.9 L447.3 507.9 L447.3 487.6 L448.9 486.3 L470.5 468.8 L470.5 467.1 L447.3 467.1 L447.3 446.9 L448.9 445.0 L470.5 427.5 L470.5 425.6 L447.3 425.6 L447.0 416.0 L445.9 409.2 L443.4 399.0 L440.3 387.5 L453.7 387.5 L453.7 387.5 L456.5 387.1 L459.1 386.0 L461.4 384.3 L463.1 382.1 L464.2 379.5 L464.6 376.6 L464.2 373.8 L463.1 371.2 L461.4 369.0 L459.1 367.3 L456.5 366.2 L453.7 365.8 L436.1 365.8 L434.7 353.2 L459.5 353.2 L459.5 353.2 L462.9 352.8 L466.0 351.5 L468.7 349.4 L470.7 346.7 L472.0 343.6 L472.4 340.2 L472.0 336.9 L470.7 333.8 L468.7 331.1 L466.0 329.0 L462.9 327.7 L459.5 327.3 L430.5 327.3 L429.1 313.3 L452.3 313.3 L452.3 313.3 L456.1 312.9 L459.6 311.6 L462.8 309.6 L465.5 306.9 L467.5 303.7 L468.8 300.2 L469.2 296.4 L468.8 292.6 L467.5 289.1 L465.5 285.9 L462.8 283.2 L459.6 281.2 L456.1 279.9 L452.3 279.5 L428.8 279.5 L429.5 266.0 L431.8 253.2 L448.2 262.8 L451.2 264.0 L454.3 264.6 L457.4 264.6 L460.5 264.0 L463.4 262.8 L466.0 261.0 L468.3 258.8 L470.0 256.2 L471.2 253.2 L471.8 250.1 L471.8 247.0 L471.2 243.9 L470.0 241.0 L468.2 238.4 L466.0 236.1 L463.4 234.4 L447.4 225.4 L448.3 224.4 L449.5 223.1 L450.9 221.5 L452.5 219.9 L454.0 218.5 L455.6 217.2 L457.2 215.9 L459.0 214.7 L460.7 213.5 L462.4 212.4 L464.0 211.4 L465.6 210.5 L467.2 209.7 L468.8 209.0 L470.5 208.3 L472.4 207.7 L474.4 207.1 L476.4 206.5 L478.2 206.1 L479.4 205.8 L480.2 229.8 L480.2 229.8 L480.4 232.2 L480.9 234.6 L481.7 236.9 L482.7 239.1 L484.1 241.2 L485.7 243.0 L487.5 244.6 L489.6 246.0 L491.8 247.0 L494.1 247.8 L496.5 248.3 L498.9 248.5 L501.3 248.3 L503.7 247.8 L506.0 247.0 L508.2 246.0 L510.3 244.6 L512.1 243.0 L513.7 241.2 L515.1 239.1 L516.1 236.9 L516.9 234.6 L517.4 232.2 L517.5 229.8 L517.5 229.8 L518.4 205.8 L519.6 206.1 L521.4 206.5 L523.4 207.1 L525.4 207.7 L527.3 208.3 L529.0 209.0 L530.6 209.7 L532.2 210.5 L533.8 211.4 L535.4 212.4 L537.1 213.5 L538.8 214.7 L540.6 215.9 L542.2 217.2 L543.8 218.5 L545.3 219.9 L546.9 221.5 L548.3 223.1 L549.5 224.4 L550.4 225.4 L534.4 234.4 L531.8 236.1 L529.6 238.4 L527.8 241.0 L526.6 243.9 L526.0 247.0 L526.0 250.1 L526.6 253.2 L527.8 256.2 L529.5 258.8 L531.8 261.0 L534.4 262.8 L537.3 264.0 L540.4 264.6 L543.5 264.6 L546.6 264.0 L549.6 262.8 L566.0 253.2 L568.3 266.0 L569.0 279.5 L545.5 279.5 L541.7 279.9 L538.2 281.2 L535.0 283.2 L532.3 285.9 L530.3 289.1 L529.0 292.6 L528.6 296.4 L529.0 300.2 L530.3 303.7 L532.3 306.9 L535.0 309.6 L538.2 311.6 L541.7 312.9 L545.5 313.3 L545.5 313.3 L568.7 313.3 L567.3 327.3 L538.3 327.3 L534.9 327.7 L531.8 329.0 L529.1 331.1 L527.1 333.8 L525.8 336.9 L525.3 340.2 L525.8 343.6 L527.1 346.7 L529.1 349.4 L531.8 351.5 L534.9 352.8 L538.3 353.2 L538.3 353.2 L563.1 353.2 L561.7 365.8 L544.1 365.8 L541.3 366.2 L538.7 367.3 L536.4 369.0 L534.7 371.2 L533.6 373.8 L533.2 376.6 L533.6 379.5 L534.7 382.1 L536.4 384.3 L538.7 386.0 L541.3 387.1 L544.1 387.5 L544.1 387.5 L557.5 387.5 L554.4 399.0 L551.9 409.2 L550.8 416.0 L550.5 425.6 L527.3 425.6 L527.3 427.5 L548.9 445.0 L550.5 446.9 L550.5 467.1 L527.3 467.1 L527.3 468.8 L548.9 486.3 L550.5 487.6 L550.5 507.9 L527.3 507.9 L527.3 510.8 L548.9 533.3 L550.5 534.3 L524.0 549.5 L521.9 551.1 L520.3 553.1 L519.3 555.6 L519.0 558.1 L519.3 560.7 L520.3 563.1 L521.9 565.2 L524.0 566.8 L526.4 567.8 L529.0 568.1 L531.6 567.8 L534.0 566.8 L550.3 557.4 L550.3 568.4 L524.0 583.6 L521.9 585.2 L520.3 587.2 L519.3 589.7 L519.0 592.2 L519.3 594.8 L520.3 597.2 L521.9 599.3 L524.0 600.9 L526.4 601.9 L529.0 602.2 L531.6 601.9 L534.0 600.9 L550.3 591.5 L550.3 602.5 L524.0 617.7 L521.9 619.3 L520.3 621.4 L519.3 623.8 L519.0 626.4 L519.3 628.9 L520.3 631.4 L521.9 633.4 L524.0 635.0 L526.4 636.0 L529.0 636.4 L531.6 636.0 L534.0 635.0 L550.3 625.6 L550.3 636.6 L524.0 651.8 L521.9 653.4 L520.3 655.4 L519.3 657.9 L519.0 660.4 L519.3 663.0 L520.3 665.4 L521.9 667.5 L524.0 669.1 L526.4 670.1 L529.0 670.4 L531.6 670.1 L534.0 669.1 L550.3 659.7 L550.3 670.7 L524.0 685.9 L521.9 687.5 L520.3 689.5 L519.3 692.0 L519.0 694.5 L519.3 697.1 L520.3 699.5 L521.9 701.6 L524.0 703.2 L526.4 704.2 L529.0 704.5 L531.6 704.2 L534.0 703.2 L550.3 693.8 L550.6 711.7 L523.4 722.7 L521.9 723.5 L521.1 724.3 L521.1 725.3 L521.7 726.2 L523.0 727.2 L547.8 742.7 L548.9 743.5 L549.4 744.4 L549.4 745.2 L548.9 746.1 L547.8 746.9 L523.1 762.0 L521.7 763.0 L521.1 764.0 L521.1 764.9 L521.9 765.7 L523.4 766.6 L551.0 778.3 L551.0 778.3 L551.0 778.8 L551.0 779.6 L551.0 780.5 L551.0 781.4 L551.0 782.4 L551.0 783.4 L550.9 784.4 L550.8 785.5 L550.7 786.7 L550.6 788.0 L550.4 789.5 L550.2 791.3 L550.0 793.1 L549.7 794.9 L549.4 796.4 L549.0 797.7 L548.7 799.0 L548.2 800.1 L547.6 801.1 L546.8 802.0 L545.6 802.7 L544.1 803.3 L542.5 803.8 L541.0 804.2 L539.8 804.8 L539.0 805.5 L538.5 806.3 L538.2 807.1 L537.9 807.8 L537.7 808.3 L537.7 813.5 L633.8 813.5 L633.8 853.3 L542.3 853.3 L540.4 854.8 L539.7 857.5 L540.6 863.6 L541.6 872.0 L540.8 883.0 L544.8 883.0 L546.8 876.0 L546.9 876.2 L546.9 876.5 L547.0 876.8 L547.1 877.3 L547.2 878.0 L547.3 878.9 L547.4 880.1 L547.4 881.4 L547.6 882.7 L547.8 884.0 L548.1 885.3 L548.5 886.6 L548.9 887.9 L549.3 889.0 L549.8 890.0 L550.3 890.7 L550.8 891.2 L551.4 891.7 L552.1 892.0 L552.8 892.3 L553.7 892.6 L554.7 892.9 L555.8 893.1 L556.8 893.3 L557.8 893.3 L558.7 893.2 L559.5 893.1 L560.3 892.8 L561.1 892.5 L561.8 892.0 L562.5 891.4 L563.2 890.6 L563.8 889.7 L564.3 888.8 L564.8 888.0 L565.1 887.2 L565.3 886.3 L565.4 885.4 L565.6 884.6 L565.8 884.0 L566.2 883.5 L566.6 883.1 L567.1 882.9 L567.5 882.7 L567.8 882.5 L577.8 880.8 L603.8 879.0 L604.2 879.1 L604.7 879.2 L605.3 879.3 L605.8 879.5 L606.3 879.8 L606.6 880.1 L606.8 880.5 L607.0 880.9 L607.2 881.4 L607.5 882.0 L607.9 882.7 L608.3 883.6 L608.7 884.5 L609.2 885.3 L609.8 886.0 L610.5 886.5 L611.3 886.9 L612.1 887.2 L613.0 887.4 L613.8 887.6 L614.6 887.7 L615.5 887.7 L616.3 887.6 L617.1 887.4 L617.8 887.2 L618.3 886.9 L618.8 886.6 L619.2 886.2 L619.5 885.6 L619.8 885.0 L620.1 884.2 L620.3 883.2 L620.4 882.1 L620.6 881.0 L620.8 880.0 L621.0 878.9 L621.2 877.8 L621.5 876.6 L621.7 875.7 L621.8 875.0 L623.1 875.0 L624.9 875.0 L627.0 875.1 L629.3 875.1 L631.7 875.1 L634.0 875.1 L636.1 875.1 L637.8 875.0 L639.2 874.9 L640.4 874.8 L641.4 874.7 L642.4 874.5 L643.2 874.3 L644.1 874.1 L644.9 873.8 L645.8 873.5 L646.7 873.1 L647.7 872.7 L648.6 872.2 L649.5 871.7 L650.4 871.1 L651.2 870.5 L652.1 869.8 L652.8 869.0 L653.5 868.1 L654.2 867.0 L654.8 865.8 L655.4 864.6 L655.9 863.4 L656.5 862.2 L656.9 861.0 L657.3 860.0 L657.6 859.0 L657.9 858.0 L658.1 857.1 L658.3 856.2 L658.4 855.4 L658.5 854.6 L658.6 854.0 L658.7 853.5 L650.6 853.5 L650.6 848.1 L655.5 848.1 L655.5 815.6 L660.5 815.6 L660.5 807.5 L651.5 807.5 L651.5 845.4 L644.7 845.4 L644.7 803.0 L597.5 803.0 L597.5 281.0 L597.4 280.4 L597.3 279.4 L597.1 278.4 L596.8 277.4 L596.5 276.5 L596.1 275.8 L595.6 275.1 L595.0 274.5 L594.4 274.0 L593.8 273.6 L593.0 273.3 L592.2 273.1 L591.3 273.0 L590.5 272.9 L590.0 272.8 L589.9 271.4 L589.8 269.3 L589.7 266.9 L589.5 264.4 L589.2 262.0 L588.8 259.7 L588.4 257.3 L588.0 254.9 L587.4 252.4 L586.8 250.0 L586.1 247.6 L585.4 245.2 L584.6 242.8 L583.8 240.4 L582.8 238.0 L581.8 235.6 L580.6 233.2 L579.4 230.7 L578.2 228.3 L576.8 226.0 L575.4 223.7 L573.9 221.5 L572.3 219.4 L570.6 217.2 L568.8 215.0 L566.8 212.8 L564.7 210.5 L562.4 208.2 L560.1 206.0 L557.8 204.0 L555.5 202.2 L553.1 200.5 L550.6 198.9 L548.2 197.4 L545.8 196.0 L543.3 194.7 L540.8 193.5 L538.3 192.4 L535.9 191.5 L533.8 190.6 L532.0 189.9 L530.4 189.4 L528.9 188.9 L527.5 188.5 L526.0 188.0 L524.4 187.5 L522.8 186.9 L521.2 186.4 L519.5 185.9 L517.8 185.4 L515.9 185.0 L514.0 184.6 L511.9 184.2 L509.9 183.8 L508.0 183.5 L506.0 183.2 L503.9 182.9 L501.9 182.7 L500.1 182.5 Z" fill="none" stroke="#242424" stroke-width="1.2" stroke-linejoin="round" stroke-linecap="butt" />
<path d="M407.8 272.8 L407.9 273.7 L407.9 274.9 L408.0 276.3 L408.1 277.8 L408.2 279.5 L408.4 281.3 L408.5 283.2 L408.6 285.0 L408.7 286.8 L408.9 288.7 L409.0 290.5 L409.1 292.5 L409.3 294.6 L409.4 296.9 L409.6 299.3 L409.8 302.0 L410.0 305.0 L410.2 308.2 L410.4 311.7 L410.6 315.3 L410.8 319.0 L411.1 322.7 L411.3 326.4 L411.6 330.0 L411.9 333.5 L412.1 336.9 L412.4 340.3 L412.6 343.8 L412.9 347.2 L413.3 350.7 L413.7 354.3 L414.2 358.0 L414.8 362.0 L415.6 366.2 L416.4 370.7 L417.2 375.1 L418.1 379.4 L418.9 383.5 L419.6 387.0 L420.2 390.0 L420.7 392.3 L421.0 393.9 L421.3 395.1 L421.5 396.0 L421.7 396.8 L421.9 397.6 L422.1 398.6 L422.4 400.0 L422.7 401.7 L423.1 403.7 L423.5 405.7 L423.9 407.9 L424.3 410.0 L424.7 412.1 L425.0 414.2 L425.3 416.0 L425.5 417.8 L425.7 419.6 L425.8 421.3 L425.9 423.0 L426.0 424.6 L426.0 425.9 L426.1 427.1 L426.1 428.0 L426.2 788.0 L426.2 789.0 L426.1 790.4 L426.0 792.0 L425.9 793.6 L425.6 795.0 L425.2 796.2 L424.7 797.5 L424.0 798.6 L423.3 799.6 L422.5 800.5 L421.5 801.2 L420.2 801.8 L418.9 802.3 L417.8 802.7 L417.0 803.0 L400.3 803.0" fill="none" stroke="#242424" stroke-width="1.1" stroke-linejoin="round" stroke-linecap="butt" />
<path d="M590.0 272.8 L589.9 273.7 L589.9 274.9 L589.8 276.3 L589.7 277.8 L589.6 279.5 L589.4 281.3 L589.3 283.2 L589.2 285.0 L589.1 286.8 L588.9 288.7 L588.8 290.5 L588.7 292.5 L588.5 294.6 L588.4 296.9 L588.2 299.3 L588.0 302.0 L587.8 305.0 L587.6 308.2 L587.4 311.7 L587.2 315.3 L587.0 319.0 L586.7 322.7 L586.5 326.4 L586.2 330.0 L585.9 333.5 L585.7 336.9 L585.4 340.3 L585.2 343.8 L584.9 347.2 L584.5 350.7 L584.1 354.3 L583.6 358.0 L583.0 362.0 L582.2 366.2 L581.4 370.7 L580.6 375.1 L579.7 379.4 L578.9 383.5 L578.2 387.0 L577.6 390.0 L577.1 392.3 L576.8 393.9 L576.5 395.1 L576.3 396.0 L576.1 396.8 L575.9 397.6 L575.7 398.6 L575.4 400.0 L575.1 401.7 L574.7 403.7 L574.3 405.7 L573.9 407.9 L573.5 410.0 L573.1 412.1 L572.8 414.2 L572.5 416.0 L572.3 417.8 L572.1 419.6 L572.0 421.3 L571.9 423.0 L571.8 424.6 L571.8 425.9 L571.7 427.1 L571.7 428.0 L571.6 788.0 L571.6 789.0 L571.7 790.4 L571.8 792.0 L571.9 793.6 L572.2 795.0 L572.6 796.2 L573.1 797.5 L573.8 798.6 L574.5 799.6 L575.3 800.5 L576.3 801.2 L577.6 801.8 L578.9 802.3 L580.0 802.7 L580.8 803.0 L597.5 803.0" fill="none" stroke="#242424" stroke-width="1.1" stroke-linejoin="round" stroke-linecap="butt" />
<circle cx="498.6" cy="296.5" r="12.8" fill="none" stroke="#242424" stroke-width="1.2"/>
<circle cx="498.6" cy="340.5" r="10.3" fill="none" stroke="#242424" stroke-width="1.2"/>
<circle cx="498.6" cy="375.6" r="10.3" fill="none" stroke="#242424" stroke-width="1.2"/>
<circle cx="498.6" cy="557.5" r="8.4" fill="none" stroke="#242424" stroke-width="1.2"/>
<circle cx="498.6" cy="590" r="8.4" fill="none" stroke="#242424" stroke-width="1.2"/>
<circle cx="498.6" cy="623" r="8.4" fill="none" stroke="#242424" stroke-width="1.2"/>
<circle cx="498.6" cy="655.6" r="8.4" fill="none" stroke="#242424" stroke-width="1.2"/>
<circle cx="498.6" cy="688.3" r="8.4" fill="none" stroke="#242424" stroke-width="1.2"/>
<path d="M447.3 425.6 L550.5 425.6" fill="none" stroke="#242424" stroke-width="1.15" stroke-linejoin="round" stroke-linecap="butt" />
<path d="M447.3 446.9 L550.5 446.9" fill="none" stroke="#242424" stroke-width="1.15" stroke-linejoin="round" stroke-linecap="butt" />
<path d="M447.3 467.1 L550.5 467.1" fill="none" stroke="#242424" stroke-width="1.15" stroke-linejoin="round" stroke-linecap="butt" />
<path d="M447.3 487.6 L550.5 487.6" fill="none" stroke="#242424" stroke-width="1.15" stroke-linejoin="round" stroke-linecap="butt" />
<path d="M447.3 507.9 L550.5 507.9" fill="none" stroke="#242424" stroke-width="1.15" stroke-linejoin="round" stroke-linecap="butt" />
<path d="M447.3 534.3 L550.5 534.3" fill="none" stroke="#242424" stroke-width="1.15" stroke-linejoin="round" stroke-linecap="butt" />
<path d="M447.2 711.8 L550.6 711.8" fill="none" stroke="#242424" stroke-width="1.15" stroke-linejoin="round" stroke-linecap="butt" />
<path d="M483.4 725.2 L514.2 725.2" fill="none" stroke="#242424" stroke-width="1.15" stroke-linejoin="round" stroke-linecap="butt" />
<path d="M452.8 745.2 L545.0 745.2" fill="none" stroke="#242424" stroke-width="1.15" stroke-linejoin="round" stroke-linecap="butt" />
<path d="M483.4 765.2 L514.2 765.2" fill="none" stroke="#242424" stroke-width="1.15" stroke-linejoin="round" stroke-linecap="butt" />
<path d="M446.8 778.4 L551.0 778.4" fill="none" stroke="#242424" stroke-width="1.15" stroke-linejoin="round" stroke-linecap="butt" />
<clipPath id="rl"><rect x="367.5" y="816.5" width="83.0" height="33.5"/></clipPath>
<path d="M271.5 860 L303.6 806.5 M281.2 860 L313.4 806.5 M291.0 860 L323.1 806.5 M300.8 860 L332.9 806.5 M310.5 860 L342.6 806.5 M320.2 860 L352.4 806.5 M330.0 860 L362.1 806.5 M339.8 860 L371.9 806.5 M349.5 860 L381.6 806.5 M359.2 860 L391.4 806.5 M369.0 860 L401.1 806.5 M378.8 860 L410.9 806.5 M388.5 860 L420.6 806.5 M398.2 860 L430.4 806.5 M408.0 860 L440.1 806.5 M417.8 860 L449.9 806.5 M427.5 860 L459.6 806.5 M437.2 860 L469.4 806.5 M447.0 860 L479.1 806.5" stroke="#242424" stroke-width="1.05" fill="none" clip-path="url(#rl)"/>
<rect x="367.5" y="816.5" width="83.0" height="33.5" fill="none" stroke="#242424" stroke-width="1.3"/>
<clipPath id="rr"><rect x="547.3" y="816.5" width="83.0" height="33.5"/></clipPath>
<path d="M450.0 860 L482.1 806.5 M459.8 860 L491.9 806.5 M469.5 860 L501.6 806.5 M479.2 860 L511.4 806.5 M489.0 860 L521.1 806.5 M498.8 860 L530.9 806.5 M508.5 860 L540.6 806.5 M518.2 860 L550.4 806.5 M528.0 860 L560.1 806.5 M537.8 860 L569.9 806.5 M547.5 860 L579.6 806.5 M557.2 860 L589.4 806.5 M567.0 860 L599.1 806.5 M576.8 860 L608.9 806.5 M586.5 860 L618.6 806.5 M596.2 860 L628.4 806.5 M606.0 860 L638.1 806.5 M615.8 860 L647.9 806.5 M625.5 860 L657.6 806.5" stroke="#242424" stroke-width="1.05" fill="none" clip-path="url(#rr)"/>
<rect x="547.3" y="816.5" width="83.0" height="33.5" fill="none" stroke="#242424" stroke-width="1.3"/>
<path d="M459.0 897.0 L460.1 791.0 L460.1 791.0 L460.3 789.0 L460.9 787.2 L461.8 785.4 L463.0 783.9 L464.5 782.7 L466.3 781.8 L468.1 781.2 L470.1 781.0 L498.9 781.0 L498.9 781.0 L527.7 781.0 L529.7 781.2 L531.5 781.8 L533.3 782.7 L534.8 783.9 L536.0 785.4 L536.9 787.2 L537.5 789.0 L537.7 791.0 L537.7 791.0 L538.8 897.0" fill="none" stroke="#242424" stroke-width="1.2" stroke-linejoin="round" stroke-linecap="butt" />
<path d="M465.3 897.0 L465.8 796.6 L465.8 796.6 L466.0 794.6 L466.6 792.8 L467.5 791.0 L468.7 789.5 L470.2 788.3 L472.0 787.4 L473.8 786.8 L475.8 786.6 L495.4 786.6 L495.4 828.6 L499.2 828.6 L498.5 828.6 L503.1 828.6 L503.1 786.6 L522.0 786.6 L524.0 786.8 L525.8 787.4 L527.6 788.3 L529.1 789.5 L530.3 791.0 L531.2 792.8 L531.8 794.6 L532.0 796.6 L532.0 796.6 L532.5 897.0" fill="none" stroke="#242424" stroke-width="1.2" stroke-linejoin="round" stroke-linecap="butt" />
<path d="M330.6 787.7 L330.6 884.0 L330.8 884.9 L330.9 886.2 L331.1 887.7 L331.4 889.4 L331.7 891.1 L332.0 892.9 L332.5 894.5 L333.0 896.0 L333.6 897.4 L334.4 898.7 L335.2 900.1 L336.0 901.4 L337.0 902.6 L337.9 903.8 L339.0 905.0 L340.0 906.0 L341.1 907.0 L342.3 907.9 L343.5 908.7 L344.8 909.5 L346.1 910.2 L347.4 910.8 L348.7 911.4 L350.0 912.0 L351.3 912.5 L352.7 912.9 L354.2 913.3 L355.6 913.6 L357.0 913.9 L358.2 914.1 L359.2 914.3 L360.0 914.5 L378.0 914.5 L383.0 909.6 L455.0 909.6 L455.9 909.4 L457.1 909.2 L458.5 909.0 L459.9 908.6 L461.0 908.0 L461.9 907.2 L462.8 906.3 L463.5 905.2 L464.1 904.1 L464.6 903.0 L464.9 901.8 L465.1 900.4 L465.2 899.0 L465.3 897.8 L465.3 897.0" fill="none" stroke="#242424" stroke-width="1.2" stroke-linejoin="round" stroke-linecap="butt" />
<path d="M667.2 787.7 L667.2 884.0 L667.0 884.9 L666.9 886.2 L666.7 887.7 L666.4 889.4 L666.1 891.1 L665.8 892.9 L665.3 894.5 L664.8 896.0 L664.2 897.4 L663.4 898.7 L662.6 900.1 L661.8 901.4 L660.8 902.6 L659.9 903.8 L658.8 905.0 L657.8 906.0 L656.7 907.0 L655.5 907.9 L654.3 908.7 L653.0 909.5 L651.7 910.2 L650.4 910.8 L649.1 911.4 L647.8 912.0 L646.5 912.5 L645.1 912.9 L643.6 913.3 L642.2 913.6 L640.8 913.9 L639.6 914.1 L638.6 914.3 L637.8 914.5 L619.8 914.5 L614.8 909.6 L542.8 909.6 L541.9 909.4 L540.7 909.2 L539.3 909.0 L537.9 908.6 L536.8 908.0 L535.9 907.2 L535.0 906.3 L534.3 905.2 L533.7 904.1 L533.2 903.0 L532.9 901.8 L532.7 900.4 L532.6 899.0 L532.5 897.8 L532.5 897.0" fill="none" stroke="#242424" stroke-width="1.2" stroke-linejoin="round" stroke-linecap="butt" />
<path d="M455.0 909.6 L542.8 909.6" fill="none" stroke="#242424" stroke-width="1.2" stroke-linejoin="round" stroke-linecap="butt" />
<path d="M331.2 824.6 L337.8 824.6 L338.7 827.4 L335.6 831.0 L336.4 833.7 L338.2 835.5 L338.5 884.0 L338.6 884.8 L338.7 885.8 L338.8 887.1 L338.9 888.5 L339.0 890.0 L339.3 891.4 L339.6 892.8 L340.0 894.0 L340.5 895.1 L341.1 896.2 L341.8 897.3 L342.5 898.3 L343.3 899.3 L344.2 900.2 L345.1 901.1 L346.0 902.0 L347.0 902.8 L348.0 903.6 L349.2 904.4 L350.3 905.2 L351.5 905.8 L352.7 906.5 L353.9 907.0 L355.0 907.5 L356.2 907.9 L357.4 908.3 L358.6 908.6 L359.8 908.8 L361.0 908.9 L362.1 909.0 L363.1 909.1 L364.0 909.0 L364.8 908.9 L365.4 908.6 L366.0 908.3 L366.5 908.0 L366.9 907.5 L367.3 907.1 L367.7 906.5 L368.0 906.0 L368.3 905.4 L368.6 904.6 L368.8 903.7 L369.0 902.8 L369.2 901.9 L369.3 901.1 L369.4 900.5 L369.5 900.0 L369.5 876.0" fill="none" stroke="#242424" stroke-width="1.2" stroke-linejoin="round" stroke-linecap="butt" />
<path d="M666.6 824.6 L660.0 824.6 L659.1 827.4 L662.2 831.0 L661.4 833.7 L659.6 835.5 L659.3 884.0 L659.2 884.8 L659.1 885.8 L659.0 887.1 L658.9 888.5 L658.8 890.0 L658.5 891.4 L658.2 892.8 L657.8 894.0 L657.3 895.1 L656.7 896.2 L656.0 897.3 L655.3 898.3 L654.5 899.3 L653.6 900.2 L652.7 901.1 L651.8 902.0 L650.8 902.8 L649.8 903.6 L648.6 904.4 L647.5 905.2 L646.3 905.8 L645.1 906.5 L643.9 907.0 L642.8 907.5 L641.6 907.9 L640.4 908.3 L639.2 908.6 L638.0 908.8 L636.8 908.9 L635.7 909.0 L634.7 909.1 L633.8 909.0 L633.0 908.9 L632.4 908.6 L631.8 908.3 L631.3 908.0 L630.9 907.5 L630.5 907.1 L630.1 906.5 L629.8 906.0 L629.5 905.4 L629.2 904.6 L629.0 903.7 L628.8 902.8 L628.6 901.9 L628.5 901.1 L628.4 900.5 L628.3 900.0 L628.3 876.0" fill="none" stroke="#242424" stroke-width="1.2" stroke-linejoin="round" stroke-linecap="butt" />
<path d="M378.0 885.0 L378.1 886.0 L378.3 887.5 L378.5 889.1 L378.7 890.7 L379.0 892.0 L379.3 893.0 L379.7 893.8 L380.1 894.5 L380.5 895.1 L381.0 895.6 L381.6 896.1 L382.3 896.5 L383.0 896.8 L383.6 897.0 L384.0 897.2 L400.0 900.0 L420.0 902.6 L445.0 905.0 L452.0 905.0 L452.7 904.8 L453.6 904.6 L454.7 904.2 L455.7 903.9 L456.5 903.4 L457.1 902.8 L457.6 902.2 L458.0 901.4 L458.3 900.7 L458.6 900.0 L458.8 899.3 L458.9 898.6 L459.0 898.0 L459.0 897.4 L459.0 897.0" fill="none" stroke="#242424" stroke-width="1.2" stroke-linejoin="round" stroke-linecap="butt" />
<path d="M619.8 885.0 L619.7 886.0 L619.5 887.5 L619.3 889.1 L619.1 890.7 L618.8 892.0 L618.5 893.0 L618.1 893.8 L617.7 894.5 L617.3 895.1 L616.8 895.6 L616.2 896.1 L615.5 896.5 L614.8 896.8 L614.2 897.0 L613.8 897.2 L597.8 900.0 L577.8 902.6 L552.8 905.0 L545.8 905.0 L545.1 904.8 L544.2 904.6 L543.1 904.2 L542.1 903.9 L541.3 903.4 L540.7 902.8 L540.2 902.2 L539.8 901.4 L539.5 900.7 L539.2 900.0 L539.0 899.3 L538.9 898.6 L538.8 898.0 L538.8 897.4 L538.8 897.0" fill="none" stroke="#242424" stroke-width="1.2" stroke-linejoin="round" stroke-linecap="butt" />
<path d="M341.8 796.7 L337.3 796.7 L337.3 807.5" fill="none" stroke="#242424" stroke-width="1.2" stroke-linejoin="round" stroke-linecap="butt" />
<path d="M656.0 796.7 L660.5 796.7 L660.5 807.5" fill="none" stroke="#242424" stroke-width="1.2" stroke-linejoin="round" stroke-linecap="butt" />
<path d="M338.2 789.5 L341.6 794.2" fill="none" stroke="#242424" stroke-width="1.0" stroke-linejoin="round" stroke-linecap="butt" />
<path d="M659.6 789.5 L656.2 794.2" fill="none" stroke="#242424" stroke-width="1.0" stroke-linejoin="round" stroke-linecap="butt" />
<path d="M55.0 314.2 L277.5 314.2 L496.0 231.0" fill="none" stroke="#2a2a2a" stroke-width="1.05" stroke-linejoin="miter"/>
<path d="M51.5 525.0 L299.5 525.0 L471.4 586.0" fill="none" stroke="#2a2a2a" stroke-width="1.05" stroke-linejoin="miter"/>
<path d="M51.5 715.5 L323.0 715.5 L405.5 838.5" fill="none" stroke="#2a2a2a" stroke-width="1.05" stroke-linejoin="miter"/>
<path d="M52.0 916.3 L304.0 916.3 L400.0 885.0" fill="none" stroke="#2a2a2a" stroke-width="1.05" stroke-linejoin="miter"/>
<path d="M970.5 365.5 L699.0 365.5 L501.2 115.4" fill="none" stroke="#2a2a2a" stroke-width="1.05" stroke-linejoin="miter"/>
<path d="M964.5 546.4 L697.8 546.4 L665.6 462.4" fill="none" stroke="#2a2a2a" stroke-width="1.05" stroke-linejoin="miter"/>
<path d="M974.0 736.2 L688.0 736.2 L534.4 660.8" fill="none" stroke="#2a2a2a" stroke-width="1.05" stroke-linejoin="miter"/>
<path d="M976.0 884.5 L718.4 884.5 L652.8 845.0 L495.5 750.5" fill="none" stroke="#2a2a2a" stroke-width="1.05" stroke-linejoin="miter"/>
<g font-family="'Liberation Sans', sans-serif" font-size="23.4" fill="#111" stroke="#111" stroke-width="0.85" stroke-linejoin="round" style="filter:grayscale(1)"><text transform="translate(54.4 275.2) scale(1.065 1)" textLength="102.9" lengthAdjust="spacing">29 picots</text><text transform="translate(54.4 303.5) scale(1.065 1)" textLength="196.1" lengthAdjust="spacing">recouvrent la tête</text><text transform="translate(55.2 425.4) scale(1.065 1)" textLength="222.0" lengthAdjust="spacing">Des picots opposés</text><text transform="translate(54.9 454.5) scale(1.065 1)" textLength="248.2" lengthAdjust="spacing">permettent une entrée</text><text transform="translate(54.9 483.2) scale(1.065 1)" textLength="211.5" lengthAdjust="spacing">suave et une sortie</text><text transform="translate(54.9 512.6) scale(1.065 1)" textLength="115.2" lengthAdjust="spacing">stimulante</text><text transform="translate(53.9 643) scale(1.065 1)" textLength="244.9" lengthAdjust="spacing">Anneau lubrifiant pour</text><text transform="translate(54.5 672.2) scale(1.065 1)" textLength="173.1" lengthAdjust="spacing">le maintien et la</text><text transform="translate(54.5 701) scale(1.065 1)" textLength="128.8" lengthAdjust="spacing">lubrification</text><text transform="translate(52.4 900.4) scale(1.065 1)" textLength="239.2" lengthAdjust="spacing">Système Smooth Pad</text><text transform="translate(715.3 322) scale(1.065 1)" textLength="177.8" lengthAdjust="spacing">Sortie d'air pour</text><text transform="translate(715.3 351.2) scale(1.065 1)" textLength="234.2" lengthAdjust="spacing">sensation de succion</text><text transform="translate(706.2 503.5) scale(1.065 1)" textLength="199.6" lengthAdjust="spacing">Enveloppe souple</text><text transform="translate(705.4 533) scale(1.065 1)" textLength="144.4" lengthAdjust="spacing">du Soft Tube</text><text transform="translate(692.4 668) scale(1.065 1)" textLength="266.0" lengthAdjust="spacing">40 picots opposés vous</text><text transform="translate(692.9 696.8) scale(1.065 1)" textLength="216.2" lengthAdjust="spacing">entreprennent sans</text><text transform="translate(692.9 725.4) scale(1.065 1)" textLength="127.5" lengthAdjust="spacing">concession</text><text transform="translate(719.2 842.5) scale(1.065 1)" textLength="238.0" lengthAdjust="spacing">La base vous enserre</text><text transform="translate(717.9 871.6) scale(1.065 1)" textLength="182.9" lengthAdjust="spacing">outrageusement</text></g>
</svg></body></html>
